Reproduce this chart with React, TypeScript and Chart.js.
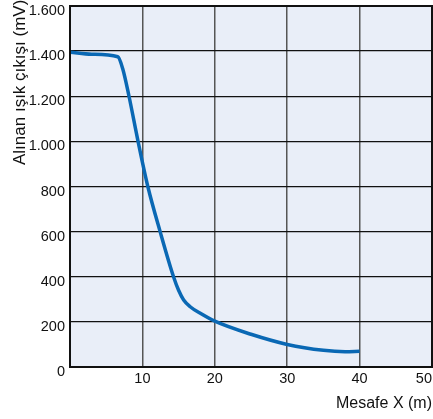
import React, { useEffect, useRef } from "react";
import { Chart, registerables } from "chart.js";

Chart.register(...registerables);

const distances = [0, 3, 6.6, 7.3, 8.15, 9.4, 10.75, 12.45, 14.3, 15, 15.7, 16.6, 18, 20, 25, 30, 35, 38, 40];
const signal = [1395, 1386, 1375, 1320, 1200, 1000, 800, 600, 400, 340, 297, 267, 238, 203, 145, 100, 74, 68, 70];
const xTicks = [0, 10, 20, 30, 40, 50];
const yTicks = [0, 200, 400, 600, 800, 1000, 1200, 1400, 1600];
const xTitle = "Mesafe X (m)";
const yTitle = "Alınan ışık çıkışı (mV)";

const FONT = "'Liberation Sans', Arial, Helvetica, sans-serif";

const fmt = (v: number) => String(v).replace(/\B(?=(\d{3})+(?!\d))/g, ".");

export default function App() {
  const ref = useRef<HTMLCanvasElement | null>(null);
  useEffect(() => {
    document.body.style.margin = "0";
    const canvas = ref.current;
    if (!canvas) return;
    const framePlugin = {
      id: "frame",
      beforeDraw(chart: any) {
        const { ctx, chartArea: a } = chart;
        ctx.save();
        ctx.fillStyle = "#e9eef8";
        ctx.fillRect(a.left, a.top, a.right - a.left, a.bottom - a.top);
        ctx.restore();
      },
      afterDraw(chart: any) {
        const { ctx, chartArea: a } = chart;
        ctx.save();
        ctx.strokeStyle = "#111";
        ctx.lineWidth = 2;
        ctx.strokeRect(a.left, a.top, a.right - a.left, a.bottom - a.top);
        ctx.fillStyle = "#111";
        ctx.font = `16px ${FONT}`;
        ctx.textAlign = "right";
        ctx.textBaseline = "middle";
        ctx.fillText(xTitle, 432, 404);
        ctx.translate(20, 165);
        ctx.rotate(-Math.PI / 2);
        ctx.font = `17px ${FONT}`;
        ctx.textAlign = "left";
        ctx.fillText(yTitle, 0, 0);
        ctx.restore();
      },
    };
    const chart = new Chart(canvas, {
      type: "scatter",
      data: {
        datasets: [
          {
            data: distances.map((x, i) => ({ x, y: signal[i] })),
            showLine: true,
            borderColor: "#0a68b4",
            borderWidth: 3.5,
            pointRadius: 0,
            cubicInterpolationMode: "monotone",
          },
        ],
      },
      options: {
        animation: false,
        responsive: false,
        events: [],
        layout: { padding: { left: 0, top: 6, right: 1, bottom: 0 } },
        plugins: { legend: { display: false }, tooltip: { enabled: false } },
        scales: {
          x: {
            type: "linear",
            min: 0,
            max: 50,
            afterFit: (s: any) => {
              s.height = 52;
              s.paddingLeft = 0;
              s.paddingRight = 0;
            },
            afterBuildTicks: (s: any) => {
              s.ticks = xTicks.map((v) => ({ value: v }));
            },
            border: { display: false },
            grid: { color: "#555", lineWidth: 1.5, drawTicks: false },
            ticks: {
              color: "#111",
              font: { family: FONT, size: 14.5 },
              padding: 3,
              maxRotation: 0,
              align: "inner",
              callback: (v: any) => (v === 0 ? "" : String(v)),
            },
          },
          y: {
            type: "linear",
            min: 0,
            max: 1600,
            afterFit: (s: any) => {
              s.width = 70;
              s.paddingTop = 0;
              s.paddingBottom = 0;
            },
            afterBuildTicks: (s: any) => {
              s.ticks = yTicks.map((v) => ({ value: v }));
            },
            border: { display: false },
            grid: { color: "#111", lineWidth: 1.3, drawTicks: false },
            ticks: {
              color: "#111",
              font: { family: FONT, size: 14.5 },
              padding: 5,
              labelOffset: 5,
              callback: (v: any) => fmt(Number(v)),
            },
          },
        },
      },
      plugins: [framePlugin],
    } as any);
    return () => chart.destroy();
  }, []);
  return (
    <div style={{ position: "absolute", left: 0, top: 0, width: 433, height: 419 }}>
      <canvas ref={ref} width={433} height={419} style={{ width: 433, height: 419 }} />
    </div>
  );
}
